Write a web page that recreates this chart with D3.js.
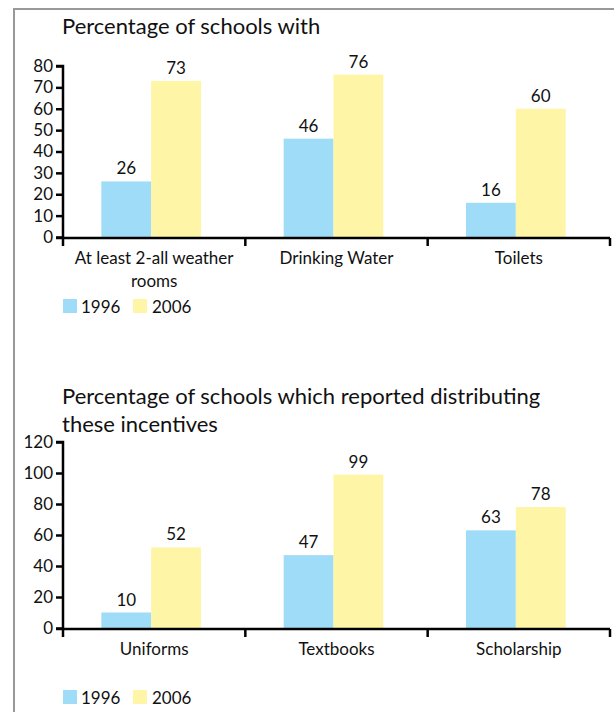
<!DOCTYPE html>
<html lang="en">
<head>
    <meta charset="UTF-8">
    <title>Schools</title>
    <script src="https://cdn.jsdelivr.net/npm/d3@7"></script>
    <style>
        body { margin: 0; background: #fff; }
        text { font-family: Lato, "Open Sans", sans-serif; fill: #111; }
    </style>
</head>
<body>
<script type="text/javascript">
    // data
    var years = ['1996', '2006'];
    var colors = ['#9edcf7', '#fff5a6'];

    var cats1 = [['At least 2-all weather', 'rooms'], ['Drinking Water'], ['Toilets']];
    var vals1996a = [26, 46, 16];
    var vals2006a = [73, 76, 60];
    var ticks1 = [0, 10, 20, 30, 40, 50, 60, 70, 80];

    var cats2 = [['Uniforms'], ['Textbooks'], ['Scholarship']];
    var vals1996b = [10, 47, 63];
    var vals2006b = [52, 99, 78];
    var ticks2 = [0, 20, 40, 60, 80, 100, 120];

    var svg = d3.select('body').append('svg')
            .attr('width', 614)
            .attr('height', 712);

    // frame
    svg.append('path')
            .attr('d', 'M14,712 L14,9 L614,9')
            .attr('fill', 'none')
            .attr('stroke', '#999')
            .attr('stroke-width', 2);

    function drawChart(opt) {
        var g = svg.append('g');

        opt.title.forEach(function (t, i) {
            g.append('text')
                    .attr('x', 62)
                    .attr('y', opt.titleY + i * 28)
                    .style('font-size', '22px')
                    .text(t);
        });

        var x0 = d3.scaleBand()
                .domain(d3.range(opt.cats.length))
                .range([63, 610]);
        var x1 = d3.scaleBand()
                .domain(years)
                .range([0, x0.bandwidth()])
                .paddingOuter(0.83);
        var y = d3.scaleLinear()
                .domain([0, opt.max])
                .range([opt.bottom, opt.top]);

        var rows = opt.cats.map(function (c, i) {
            return {i: i, label: c, v: [opt.a[i], opt.b[i]]};
        });

        var grp = g.selectAll('.grp')
                .data(rows)
                .enter()
                .append('g')
                .attr('transform', function (d) {
                    return 'translate(' + (x0(d.i) - 3) + ',0)';
                });

        grp.selectAll('rect')
                .data(function (d) { return d.v; })
                .enter()
                .append('rect')
                .attr('x', function (d, j) { return x1(years[j]); })
                .attr('width', x1.bandwidth())
                .attr('y', function (d) { return y(d); })
                .attr('height', function (d) { return opt.bottom - y(d); })
                .attr('fill', function (d, j) { return colors[j]; });

        grp.selectAll('.val')
                .data(function (d) { return d.v; })
                .enter()
                .append('text')
                .attr('x', function (d, j) { return x1(years[j]) + x1.bandwidth() / 2; })
                .attr('y', function (d) { return y(d) - 7; })
                .attr('text-anchor', 'middle')
                .style('font-size', '17px')
                .text(function (d) { return d; });

        // y axis
        var yAxis = d3.axisLeft(y)
                .tickValues(opt.ticks)
                .tickSize(7)
                .tickPadding(3);
        var ya = g.append('g')
                .attr('transform', 'translate(63,0)')
                .call(yAxis);
        ya.select('.domain').attr('stroke-width', 2.5).attr('d', 'M-7,' + opt.top + 'H0V' + opt.bottom);
        ya.selectAll('line').attr('stroke-width', 2.5);
        ya.selectAll('text').style('font-size', '17px').style('font-family', 'Lato, sans-serif').attr('fill', '#111');

        // x axis
        var edges = d3.range(opt.cats.length).map(function (i) { return x0(i); }).concat([610]);
        g.append('line')
                .attr('x1', 56).attr('x2', 610)
                .attr('y1', opt.bottom + 1).attr('y2', opt.bottom + 1)
                .attr('stroke', '#000').attr('stroke-width', 2.5);
        g.selectAll('.xt')
                .data(edges)
                .enter()
                .append('line')
                .attr('x1', function (d) { return d; })
                .attr('x2', function (d) { return d; })
                .attr('y1', opt.bottom + 1)
                .attr('y2', opt.bottom + 9)
                .attr('stroke', '#000')
                .attr('stroke-width', 2.5);

        rows.forEach(function (d) {
            d.label.forEach(function (l, k) {
                g.append('text')
                        .attr('x', x0(d.i) + x0.bandwidth() / 2)
                        .attr('y', opt.bottom + 27 + k * 23)
                        .attr('text-anchor', 'middle')
                        .style('font-size', '17px')
                        .text(l);
            });
        });

        // legend
        years.forEach(function (yr, j) {
            g.append('rect')
                    .attr('x', 63 + j * 70)
                    .attr('y', opt.legendY)
                    .attr('width', 14)
                    .attr('height', 14)
                    .attr('fill', colors[j]);
            g.append('text')
                    .attr('x', 81 + j * 71)
                    .attr('y', opt.legendY + 14)
                    .style('font-size', '17px')
                    .text(yr);
        });
    }

    drawChart({
        title: ['Percentage of schools with'],
        titleY: 34,
        cats: cats1, a: vals1996a, b: vals2006a,
        max: 80, ticks: ticks1,
        top: 66, bottom: 237,
        legendY: 299
    });

    drawChart({
        title: ['Percentage of schools which reported distributing', 'these incentives'],
        titleY: 404,
        cats: cats2, a: vals1996b, b: vals2006b,
        max: 120, ticks: ticks2,
        top: 442, bottom: 628,
        legendY: 690
    });
</script>
</body>
</html>
